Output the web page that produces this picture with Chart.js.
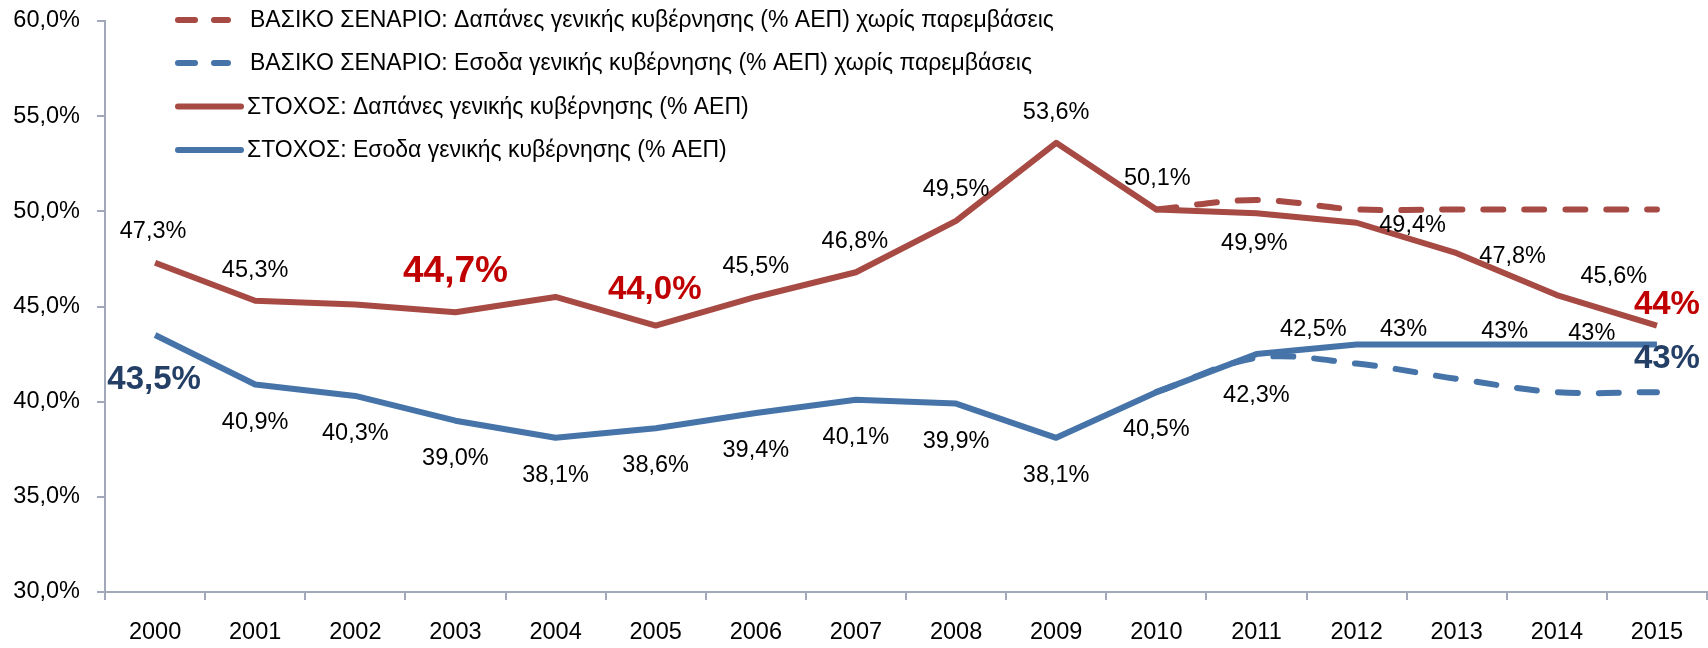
<!DOCTYPE html>
<html>
<head>
<meta charset="utf-8">
<script src="https://cdn.jsdelivr.net/npm/chart.js@4.4.1/dist/chart.umd.min.js"></script>
<style>
html,body{margin:0;padding:0;background:#fff;}
canvas{display:block;}
</style>
</head>
<body>
<canvas id="c" width="1708" height="648"></canvas>
<script>
// ---------- DATA ----------
const years = ['2000','2001','2002','2003','2004','2005','2006','2007','2008','2009','2010','2011','2012','2013','2014','2015'];
const yTicks = [30, 35, 40, 45, 50, 55, 60];

const seriesNames = [
  'ΒΑΣΙΚΟ ΣΕΝΑΡΙΟ: Δαπάνες γενικής κυβέρνησης (% ΑΕΠ) χωρίς παρεμβάσεις',
  'ΒΑΣΙΚΟ ΣΕΝΑΡΙΟ: Εσοδα γενικής κυβέρνησης (% ΑΕΠ) χωρίς παρεμβάσεις',
  'ΣΤΟΧΟΣ: Δαπάνες γενικής κυβέρνησης (% ΑΕΠ)',
  'ΣΤΟΧΟΣ: Εσοδα γενικής κυβέρνησης (% ΑΕΠ)'
];

const baseSpending  = [null,null,null,null,null,null,null,null,null,null,50.1,50.6,50.1,50.1,50.1,50.1];
const baseRevenue   = [null,null,null,null,null,null,null,null,null,null,40.5,42.3,42.0,41.2,40.5,40.5];
const targetSpending= [47.3,45.3,45.1,44.7,45.5,44.0,45.5,46.8,49.5,53.6,50.1,49.9,49.4,47.8,45.6,44.0];
const targetRevenue = [43.5,40.9,40.3,39.0,38.1,38.6,39.4,40.1,39.9,38.1,40.5,42.5,43.0,43.0,43.0,43.0];

// label texts shown next to points
const baseRevenueLabels    = ['','','','','','','','','','','','42,3%','','','',''];
const targetSpendingLabels = ['47,3%','45,3%','','44,7%','','44,0%','45,5%','46,8%','49,5%','53,6%','50,1%','49,9%','49,4%','47,8%','45,6%','44%'];
const targetRevenueLabels  = ['43,5%','40,9%','40,3%','39,0%','38,1%','38,6%','39,4%','40,1%','39,9%','38,1%','40,5%','42,5%','43%','43%','43%','43%'];

// ---------- STYLE / PLACEMENT ----------
const FONT = '"Liberation Sans", Arial, sans-serif';
const RED = '#A84A44', BLUE = '#4674A9', AXIS = '#A3A7BA';
const BIG_RED = '#C00000', BIG_BLUE = '#243F66';

// label offsets (px) relative to the point, and style key
const labelPlacement = {
  1: { off: i => [0, 38], style: i => 'n' },
  2: {
    off: i => ({0:[-2,-31],1:[0,-30],3:[0,-40],5:[-1,-36],6:[0,-30],7:[-1,-31],8:[0,-31],9:[0,-30],10:[1,-31],
                11:[-2,30],12:[56,3],13:[56,3],14:[57,-19],15:[10,-21]})[i] || [0,-30],
    style: i => i === 3 ? 'R' : ((i === 5 || i === 15) ? 'r' : 'n')
  },
  3: {
    off: i => ({0:[-1,45],11:[57,-25],12:[47,-15],13:[48,-13],14:[35,-11],15:[10,14]})[i] || [0,37.5],
    style: i => (i === 0 || i === 15) ? 'b' : 'n'
  }
};
const labelTexts = {1: baseRevenueLabels, 2: targetSpendingLabels, 3: targetRevenueLabels};
const labelStyles = {
  n: {font: '23.5px ' + FONT, color: '#000'},
  R: {font: 'bold 37px ' + FONT, color: BIG_RED},
  r: {font: 'bold 33px ' + FONT, color: BIG_RED},
  b: {font: 'bold 33px ' + FONT, color: BIG_BLUE}
};

const pointLabelPlugin = {
  id: 'pointLabels',
  afterDatasetsDraw(chart) {
    const ctx = chart.ctx;
    ctx.save();
    ctx.textAlign = 'center';
    ctx.textBaseline = 'middle';
    Object.keys(labelTexts).forEach(k => {
      const di = +k;
      const meta = chart.getDatasetMeta(di);
      const texts = labelTexts[di];
      meta.data.forEach((pt, i) => {
        const t = texts[i];
        if (!t) return;
        const [dx, dy] = labelPlacement[di].off(i);
        const st = labelStyles[labelPlacement[di].style(i)];
        ctx.font = st.font;
        ctx.fillStyle = st.color;
        ctx.fillText(t, pt.x + dx, pt.y + dy);
      });
    });
    ctx.restore();
  }
};

const legendPlugin = {
  id: 'customLegend',
  afterDraw(chart) {
    const ctx = chart.ctx;
    const rows = [20, 63, 106.5, 150];
    ctx.save();
    ctx.font = '23px ' + FONT;
    ctx.textBaseline = 'middle';
    ctx.textAlign = 'left';
    chart.data.datasets.forEach((ds, i) => {
      const y = rows[i];
      ctx.strokeStyle = ds.borderColor;
      ctx.lineWidth = 6;
      ctx.lineCap = 'round';
      ctx.beginPath();
      if (ds.borderDash && ds.borderDash.length) {
        ctx.moveTo(178, y); ctx.lineTo(195, y);
        ctx.moveTo(214, y); ctx.lineTo(228, y);
      } else {
        ctx.moveTo(178, y); ctx.lineTo(241, y);
      }
      ctx.stroke();
      ctx.fillStyle = '#000';
      ctx.fillText(ds.label, (ds.borderDash && ds.borderDash.length) ? 250 : 247, y + 1);
    });
    ctx.restore();
  }
};

const lineBase = {pointRadius: 0, pointHoverRadius: 0, borderWidth: 6, fill: false, spanGaps: false, borderJoinStyle: 'round'};

new Chart(document.getElementById('c'), {
  type: 'line',
  data: {
    labels: years,
    datasets: [
      Object.assign({}, lineBase, {label: seriesNames[0], data: baseSpending, borderColor: RED, borderDash: [20, 21], borderCapStyle: 'round', tension: 0.35}),
      Object.assign({}, lineBase, {label: seriesNames[1], data: baseRevenue, borderColor: BLUE, borderDash: [20, 21], borderCapStyle: 'round', tension: 0.35}),
      Object.assign({}, lineBase, {label: seriesNames[2], data: targetSpending, borderColor: RED, tension: 0}),
      Object.assign({}, lineBase, {label: seriesNames[3], data: targetRevenue, borderColor: BLUE, tension: 0})
    ]
  },
  options: {
    responsive: false,
    animation: false,
    devicePixelRatio: 1,
    layout: {padding: {top: 21, right: 1, left: 0, bottom: 0}},
    plugins: {legend: {display: false}, tooltip: {enabled: false}},
    scales: {
      x: {
        offset: true,
        grid: {display: true, drawOnChartArea: false, drawTicks: true, tickLength: 8, offset: true, color: AXIS, lineWidth: 2},
        border: {display: true, color: AXIS, width: 2},
        ticks: {font: {family: FONT, size: 23.5}, color: '#000', padding: 18, maxRotation: 0, autoSkip: false},
        afterFit: s => { s.height = 56; s.paddingLeft = 0; s.paddingRight = 0; }
      },
      y: {
        min: 30, max: 60,
        grid: {display: true, drawOnChartArea: false, drawTicks: true, tickLength: 8, color: AXIS, lineWidth: 2},
        border: {display: true, color: AXIS, width: 2},
        afterBuildTicks: s => { s.ticks = yTicks.map(v => ({value: v})); },
        ticks: {font: {family: FONT, size: 23.5}, color: '#000', padding: 17,
                callback: v => v.toFixed(1).replace('.', ',') + '%'},
        afterFit: s => { s.width = 105; s.paddingTop = 0; s.paddingBottom = 0; }
      }
    }
  },
  plugins: [pointLabelPlugin, legendPlugin]
});
</script>
</body>
</html>
